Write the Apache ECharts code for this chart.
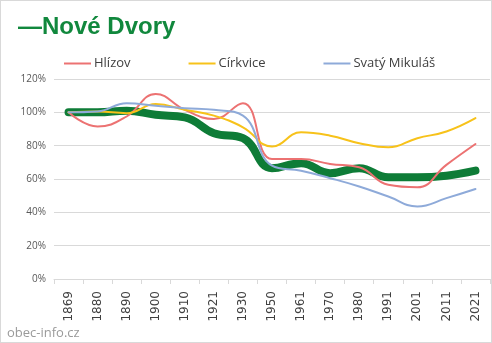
<!DOCTYPE html>
<html>
<head>
<meta charset="utf-8">
<script src="https://cdn.jsdelivr.net/npm/echarts@6/dist/echarts.min.js"></script>
<style>
  html, body { margin: 0; padding: 0; background: #fff; }
  #chart { width: 492px; height: 343px; box-sizing: border-box; border: 1px solid #d9d9d9; }
</style>
</head>
<body>
<div id="chart"></div>
<script>
// Census years
const years = ['1869','1880','1890','1900','1910','1921','1930','1950','1961','1970','1980','1991','2001','2011','2021'];
// Population relative to 1869, in percent
const noveDvory = [100, 100, 101, 98.5, 97, 87.5, 84.5, 66.5, 69.5, 63.5, 66.5, 61, 61, 62, 65];
const hlizov    = [100, 91.5, 97.5, 111, 101.5, 96, 105.5, 72, 72, 69, 67, 56.5, 55, 68.5, 81];
const cirkvice  = [100, 100.5, 99.5, 105, 101.5, 98, 91, 79.5, 88, 86, 81.5, 79, 84.5, 88.5, 96.5];
const mikulas   = [100, 100.5, 105.5, 104, 102.5, 101.5, 98, 68, 65, 60.5, 55.5, 49.5, 43.5, 48.5, 54];
const yTicks = [0, 20, 40, 60, 80, 100, 120];

const chart = echarts.init(document.getElementById('chart'), null, { renderer: 'canvas' });

function line(name, data, color, width) {
  return {
    name: name,
    type: 'line',
    data: data,
    smooth: 0.45,
    symbol: 'none',
    lineStyle: { color: color, width: width, cap: 'round', join: 'round' },
    itemStyle: { color: color }
  };
}

chart.setOption({
  animation: false,
  title: [
    {
      text: '—Nové Dvory',
      left: 12, top: 9,
      textStyle: { fontFamily: 'Liberation Sans, Arial, sans-serif', fontSize: 24, fontWeight: 'bold', color: '#11883d' }
    },
    {
      text: 'obec-info.cz',
      left: 1, top: 321,
      textStyle: { fontFamily: 'Open Sans, sans-serif', fontSize: 13, fontWeight: 'normal', color: '#9a9a9a' }
    }
  ],
  legend: {
    data: ['Hlízov', 'Církvice', 'Svatý Mikuláš'],
    left: 58, top: 51,
    icon: 'rect',
    itemWidth: 27, itemHeight: 2,
    itemGap: 58,
    textStyle: { fontFamily: 'Open Sans, sans-serif', fontSize: 13, color: '#404040', padding: [0, 0, 0, -2] }
  },
  grid: { left: 53, right: 1, top: 78, bottom: 63 },
  xAxis: {
    type: 'category',
    data: years,
    boundaryGap: true,
    axisLine: { lineStyle: { color: '#d9d9d9' } },
    axisTick: { show: true, length: 5, lineStyle: { color: '#d9d9d9' } },
    axisLabel: { rotate: 90, fontFamily: 'DejaVu Sans, sans-serif', fontSize: 12, color: '#404040', margin: 12, interval: 0 }
  },
  yAxis: {
    type: 'value',
    min: 0, max: 120, interval: 20,
    axisLine: { show: false },
    axisTick: { show: false },
    splitLine: { lineStyle: { color: '#d9d9d9' } },
    axisLabel: {
      fontFamily: 'Open Sans, sans-serif', fontSize: 10, color: '#595959', margin: 8,
      formatter: v => yTicks.includes(v) ? v + '%' : ''
    }
  },
  series: [
    line('Nové Dvory', noveDvory, '#0e7c37', 8),
    line('Hlízov', hlizov, '#ec7272', 2),
    line('Církvice', cirkvice, '#f7c21a', 2),
    line('Svatý Mikuláš', mikulas, '#8eaad9', 2)
  ]
});
</script>
</body>
</html>
